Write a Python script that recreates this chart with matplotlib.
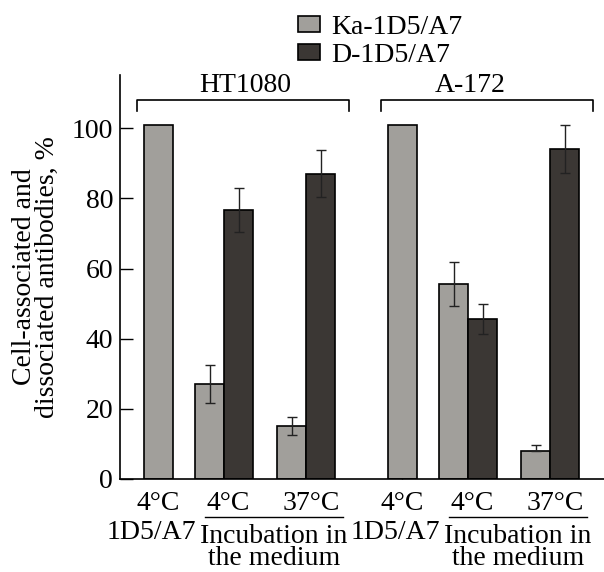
import numpy as np
import matplotlib
matplotlib.use('Agg')
import matplotlib.pyplot as plt
from matplotlib.patches import Patch
from matplotlib.transforms import blended_transform_factory

plt.rcParams['font.family'] = ['Liberation Serif', 'DejaVu Serif']
plt.rcParams['font.size'] = 20

# data (% of antibodies)
cell_lines = ['HT1080', 'A-172']
temps = ['4°C', '4°C', '37°C']
ka_vals = {'HT1080': [101, 27.2, 15.1], 'A-172': [101, 55.6, 8.0]}
ka_err_lo = {'HT1080': [0, 5.4, 2.6], 'A-172': [0, 6.2, 0]}
ka_err_hi = {'HT1080': [0, 5.4, 2.6], 'A-172': [0, 6.2, 1.7]}
d_vals = {'HT1080': [76.7, 87.1], 'A-172': [45.6, 94.1]}   # only incubated samples
d_err = {'HT1080': [6.3, 6.8], 'A-172': [4.2, 6.8]}
legend_labels = ['Ka-1D5/A7', 'D-1D5/A7']

gray = '#a19f9b'
dark = '#3b3734'

W, H = 604, 572
fig = plt.figure(figsize=(W / 100, H / 100), dpi=100)
ax = fig.add_axes([120 / W, 93 / H, 484 / W, 404 / H])

bw = 29.0
base = [0.0, 66.0, 148.0]      # positions inside a group
shift = 244.0                 # distance between cell lines

for g, line in enumerate(cell_lines):
    x0 = g * shift
    xs = [x0 + base[0], x0 + base[1] - bw / 2, x0 + base[2] - bw / 2]
    ax.bar(xs, ka_vals[line], width=bw, color=gray, edgecolor='black', linewidth=1.2, zorder=2)
    xd = [x0 + base[1] + bw / 2, x0 + base[2] + bw / 2]
    ax.bar(xd, d_vals[line], width=bw, color=dark, edgecolor='black', linewidth=1.2, zorder=2)
    ax.errorbar(xs[1:], ka_vals[line][1:], yerr=[ka_err_lo[line][1:], ka_err_hi[line][1:]],
                fmt='none', ecolor='#222222', elinewidth=1, capsize=3.5, capthick=1, zorder=3)
    ax.errorbar(xd, d_vals[line], yerr=d_err[line],
                fmt='none', ecolor='#222222', elinewidth=1, capsize=3.5, capthick=1, zorder=3)

    # bracket with cell line name
    bl, br = x0 - 21, x0 + 191
    ax.plot([bl, bl, br, br], [104.8, 108.2, 108.2, 104.8], color='black', lw=1.2, clip_on=False)
    lab_x = x0 + (87 if g == 0 else 68)
    ax.text(lab_x, 112.3, line, ha='center', va='center', clip_on=False)

    # labels below the axis
    tr = blended_transform_factory(ax.transData, fig.transFigure)
    offs = [0, 70, 153]
    for t, o in zip(temps, offs):
        ax.text(x0 + o, 1 - 510 / H, t, ha='center', va='baseline', transform=tr)
    ax.text(x0 - 7, 1 - 539 / H, '1D5/A7', ha='center', va='baseline', transform=tr)
    ax.plot([x0 + 47, x0 + 185], [1 - 517 / H] * 2, color='black', lw=1, transform=tr, clip_on=False)
    ax.text(x0 + 116, 1 - 571 / H, 'Incubation in\nthe medium', ha='center', va='bottom',
            multialignment='center', linespacing=0.82, transform=tr)

ax.set_xlim(-38, 446)
ax.set_ylim(0, 115.2)
ax.set_yticks([0, 20, 40, 60, 80, 100])
ax.set_xticks([shift])
ax.set_xticklabels([''])
ax.tick_params(axis='y', direction='in', length=9, width=1, pad=5)
ax.tick_params(axis='x', direction='in', length=9, width=1)
for s in ['top', 'right']:
    ax.spines[s].set_visible(False)
ax.spines['left'].set_linewidth(1.2)
ax.spines['bottom'].set_linewidth(1.2)

fig.text(36 / W, 1 - 277 / H, 'Cell-associated and\ndissociated antibodies, %',
         rotation=90, ha='center', va='center', multialignment='center', linespacing=0.9)

handles = [Patch(facecolor=gray, edgecolor='black', linewidth=1.2),
           Patch(facecolor=dark, edgecolor='black', linewidth=1.2)]
fig.legend(handles, legend_labels, loc='upper left', bbox_to_anchor=(298 / W, 1 - 15 / H),
           frameon=False, borderpad=0, handlelength=0.8, handleheight=0.48,
           handletextpad=0.4, labelspacing=0.1, borderaxespad=0)

fig.savefig('out.png', dpi=100)
